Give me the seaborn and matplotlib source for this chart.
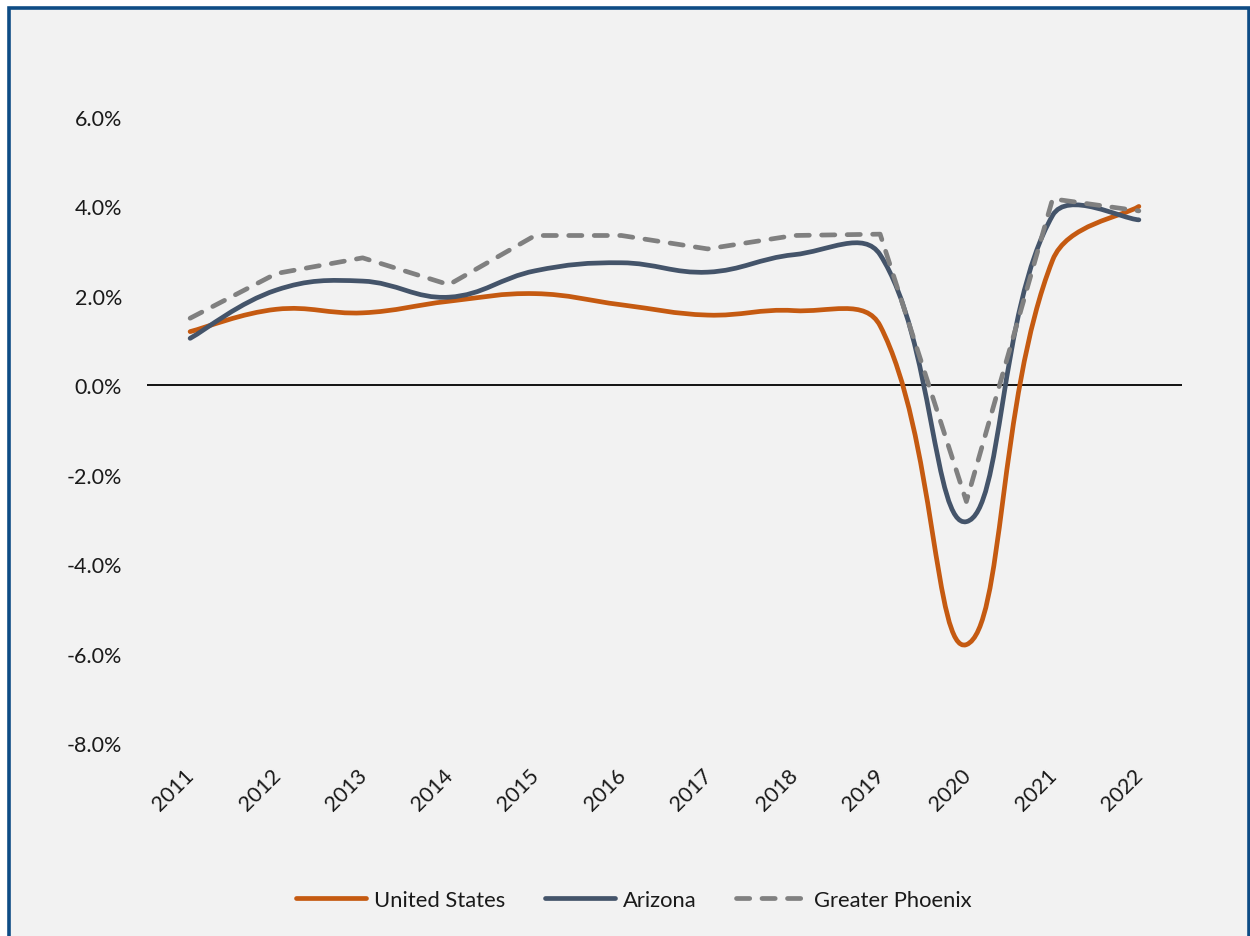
import numpy as np
import matplotlib
matplotlib.use("Agg")
import matplotlib.pyplot as plt
import seaborn as sns
from matplotlib.path import Path
from matplotlib.patches import PathPatch, Rectangle
from matplotlib.lines import Line2D
from matplotlib.transforms import ScaledTranslation

# ---------------- data ----------------
years = ["2011", "2012", "2013", "2014", "2015", "2016",
         "2017", "2018", "2019", "2020", "2021", "2022"]
us_growth = [1.2, 1.7, 1.62, 1.88, 2.05, 1.8, 1.57, 1.67, 1.33, -5.8, 2.8, 4.0]
az_growth = [1.05, 2.13, 2.33, 1.97, 2.56, 2.74, 2.53, 2.92, 2.92, -3.05, 3.8, 3.7]
phx_growth = [1.5, 2.5, 2.85, 2.25, 3.35, 3.35, 3.05, 3.35, 3.38, -2.6, 4.17, 3.9]
series_names = ["United States", "Arizona", "Greater Phoenix"]
y_ticks = [-8.0, -6.0, -4.0, -2.0, 0.0, 2.0, 4.0, 6.0]

# ---------------- style ----------------
sns.set_theme(style="white")
plt.rcParams['font.family'] = ['Lato', 'DejaVu Sans']

C_US = "#C55A11"
C_AZ = "#44546A"
C_PHX = "#808080"
TXT = "#1a1a1a"
LW = 3.4

fig = plt.figure(figsize=(12.5, 9.37), dpi=100)
fig.patch.set_facecolor("white")
border = Rectangle((9 / 1250, -0.02), (1248.5 - 9) / 1250, 1 - 9.3 / 937 + 0.02,
                   transform=fig.transFigure, facecolor="#F2F2F2",
                   edgecolor="#0E4C85", lw=2.6, zorder=-10)
fig.patches.append(border)

ax = fig.add_axes([147 / 1250, (937 - 744) / 937, 1035 / 1250, (744 - 118) / 937])
ax.set_facecolor("none")
for s in ax.spines.values():
    s.set_visible(False)

xpos = np.arange(len(years))
ax.set_xlim(-0.5, len(years) - 0.5)
ax.set_ylim(-8, 6)


def smooth_patch(ax, xs, ys, color, t=0.4):
    P = ax.transData.transform(np.column_stack([xs, ys]).astype(float))
    n = len(P)
    seg = [np.linalg.norm(P[i + 1] - P[i]) for i in range(n - 1)]

    def tangent(i):
        return P[min(i + 1, n - 1)] - P[max(i - 1, 0)]

    verts = [P[0]]
    codes = [Path.MOVETO]
    for i in range(n - 1):
        lp = seg[i - 1] if i > 0 else seg[i]
        ln = seg[i + 1] if i + 1 < n - 1 else seg[i]
        c1 = P[i] + tangent(i) * t * seg[i] / (seg[i] + lp)
        c2 = P[i + 1] - tangent(i + 1) * t * seg[i] / (seg[i] + ln)
        verts += [c1, c2, P[i + 1]]
        codes += [Path.CURVE4] * 3
    verts = ax.transData.inverted().transform(np.array(verts))
    patch = PathPatch(Path(verts, codes), transform=ax.transData, fill=False,
                      edgecolor=color, lw=LW, capstyle="round",
                      joinstyle="round", zorder=3)
    ax.add_patch(patch)


ax.axhline(0, color="black", lw=1.3, zorder=1)

smooth_patch(ax, xpos, us_growth, C_US)
smooth_patch(ax, xpos, az_growth, C_AZ)
sns.lineplot(x=xpos, y=phx_growth, ax=ax, color=C_PHX, lw=LW,
             linestyle=(0, (2.8, 2.6)), dash_capstyle="round", zorder=4)

ax.set_yticks(y_ticks)
ax.set_yticklabels([f"{v:.1f}%" for v in y_ticks])
ax.set_xticks(xpos)
ax.set_xticklabels(years)
ax.tick_params(axis="y", length=0, pad=18, labelsize=15.5, colors=TXT)
ax.tick_params(axis="x", length=0, pad=21, labelsize=15.5, colors=TXT)
off = ScaledTranslation(1 / 100, 0, fig.dpi_scale_trans)
for lbl in ax.get_xticklabels():
    lbl.set_rotation(45)
    lbl.set_ha("right")
    lbl.set_va("center")
    lbl.set_rotation_mode("anchor")
    lbl.set_transform(lbl.get_transform() + off)
ax.set_xlabel("")
ax.set_ylabel("")
ax.grid(False)

handles = [
    Line2D([], [], color=C_US, lw=LW, solid_capstyle="round"),
    Line2D([], [], color=C_AZ, lw=LW, solid_capstyle="round"),
    Line2D([], [], color=C_PHX, lw=LW, linestyle=(0, (2.8, 2.6)),
           dash_capstyle="round"),
]
fig.legend(handles, series_names, loc="center", bbox_to_anchor=(0.507, 1 - 901 / 937),
           ncol=3, frameon=False, fontsize=15.8, handlelength=3.2,
           handletextpad=0.35, columnspacing=1.8, labelcolor=TXT)

fig.savefig("out.png", dpi=100, facecolor=fig.get_facecolor())
